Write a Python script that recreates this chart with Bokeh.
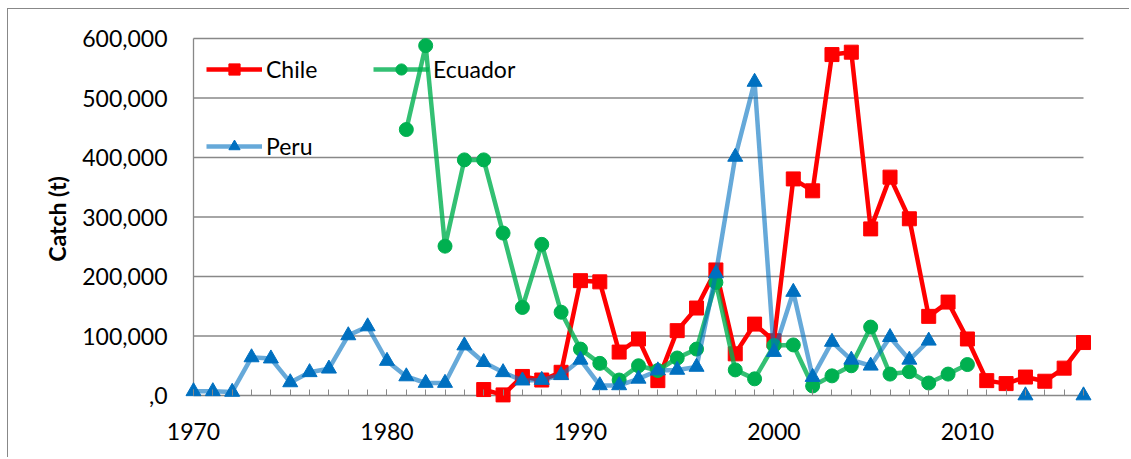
import numpy as np
from bokeh.plotting import figure
from bokeh.models import Range1d, FixedTicker, Legend, LegendItem
from bokeh.embed import file_html
from bokeh.resources import INLINE

nan = float("nan")

# ---------------- data ----------------
chile_years = list(range(1985, 2017))
chile_catch = [10000, 1000, 32000, 26000, 39000, 193000, 191000, 73000, 95000, 25000,
               109000, 147000, 211000, 70000, 120000, 92000, 364000, 344000, 573000, 577000,
               280000, 367000, 297000, 133000, 157000, 95000, 25000, 20000, 31000, 24000,
               46000, 89000]

ecuador_years = list(range(1981, 2011))
ecuador_catch = [447000, 588000, 251000, 396000, 396000, 273000, 148000, 254000, 140000, 78000,
                 54000, 26000, 50000, 42000, 63000, 78000, 190000, 43000, 28000, 84000,
                 85000, 16000, 33000, 50000, 115000, 36000, 40000, 21000, 36000, 52000]

peru_years = list(range(1970, 2017))
peru_catch = [7000, 7000, 6000, 64000, 62000, 22000, 39000, 45000, 101000, 116000,
              58000, 32000, 21000, 21000, 84000, 56000, 39000, 25000, 26000, 34000,
              60000, 17000, 17000, 28000, 42000, 43000, 48000, 205000, 401000, 527000,
              73000, 174000, 31000, 90000, 60000, 50000, 98000, 60000, 92000, nan,
              nan, nan, nan, 0, nan, nan, 0]

y_ticks = [0, 100000, 200000, 300000, 400000, 500000, 600000]
y_tick_labels = [",0", "100,000", "200,000", "300,000", "400,000", "500,000", "600,000"]
x_ticks = [1970, 1980, 1990, 2000, 2010]
x_first, x_last = 1970, 2016

# ---------------- layout ----------------
W, H = 1122, 449
ML, MR, MT, MB = 175, 37, 25, 55
PAD_L, PAD_R, PAD_T, PAD_B = 10, 10, 4, 8
fw = W - ML - MR
fh = H - MT - MB
xu = (x_last - x_first) / (fw - PAD_L - PAD_R)
yu = (y_ticks[-1] - y_ticks[0]) / (fh - PAD_T - PAD_B)

FONT = "Lato"
FS = "23px"
GRID = "#888888"

p = figure(width=W, height=H, output_backend="svg", toolbar_location=None,
           x_range=Range1d(x_first - PAD_L * xu, x_last + PAD_R * xu),
           y_range=Range1d(y_ticks[0] - PAD_B * yu, y_ticks[-1] + PAD_T * yu),
           min_border_left=ML, min_border_right=MR, min_border_top=MT, min_border_bottom=MB)
p.styles = {"margin-left": "7px", "margin-top": "8px",
            "border-left": "1px solid #888888", "border-top": "1px solid #888888"}
p.outline_line_color = None
p.xgrid.visible = False
p.ygrid.visible = False
p.background_fill_color = "white"
p.border_fill_color = "white"

# horizontal gridlines (including the zero line that acts as x axis line)
p.segment(x0=x_first, x1=x_last, y0=y_ticks, y1=y_ticks,
          line_color=GRID, line_width=1.3, level="underlay")
# vertical axis line at the first year
p.segment(x0=x_first, x1=x_first, y0=y_ticks[0], y1=y_ticks[-1],
          line_color=GRID, line_width=1.3, level="underlay")

# y axis
ya = p.yaxis[0]
ya.ticker = FixedTicker(ticks=y_ticks)
ya.major_label_overrides = dict(zip(y_ticks, y_tick_labels))
ya.major_tick_in = 0
ya.major_tick_out = 0
ya.minor_tick_in = 0
ya.minor_tick_out = 0
ya.axis_line_color = None
ya.major_label_standoff = 16
ya.major_label_text_font = FONT
ya.major_label_text_font_size = FS
ya.major_label_text_color = "black"
ya.axis_label = "Catch (t)"
ya.axis_label_text_font = FONT
ya.axis_label_text_font_size = FS
ya.axis_label_text_font_style = "bold"
ya.axis_label_text_color = "black"
ya.axis_label_standoff = 8

# x axis (drawn at the frame edge; ticks shifted up onto the zero line)
xa = p.xaxis[0]
xa.bounds = (x_first, x_last)
xa.ticker = FixedTicker(ticks=x_ticks, minor_ticks=list(range(x_first, x_last + 1)))
xa.major_tick_in = 14
xa.major_tick_out = -8
xa.minor_tick_in = 14
xa.minor_tick_out = -8
xa.major_tick_line_color = GRID
xa.minor_tick_line_color = GRID
xa.axis_line_color = None
xa.major_label_standoff = 27
xa.major_label_text_font = FONT
xa.major_label_text_font_size = FS
xa.major_label_text_color = "black"

# series
cl = p.line(chile_years, chile_catch, line_color="#FF0000", line_width=4.5, line_join="round")
cs = p.scatter(chile_years, chile_catch, marker="square", size=14,
               fill_color="#FF0000", line_color="#FF0000")
el = p.line(ecuador_years, ecuador_catch, line_color="#00B050", line_alpha=0.8,
            line_width=4.5, line_join="round")
es = p.scatter(ecuador_years, ecuador_catch, marker="circle", size=14,
               fill_color="#00B050", line_color="#00B050")
pl = p.line(peru_years, peru_catch, line_color="#0070C0", line_alpha=0.6,
            line_width=4.5, line_join="round")
ps = p.scatter(peru_years, peru_catch, marker="triangle", size=15,
               fill_color="#0070C0", line_color="#0070C0")


def add_legend(label, rends, loc):
    lg = Legend(items=[LegendItem(label=label, renderers=rends)], location=loc,
                padding=0, margin=0, spacing=0, border_line_color=None,
                background_fill_alpha=0, glyph_width=56, glyph_height=28,
                label_height=28, label_standoff=4, label_text_font=FONT,
                label_text_font_size=FS, label_text_color="black",
                label_text_baseline="middle")
    p.add_layout(lg)


add_legend("Chile", [cl, cs], (23, 320))
add_legend("Ecuador", [el, es], (190, 320))
add_legend("Peru", [pl, ps], (23, 243))

open("out.html", "w").write(file_html(p, INLINE))
